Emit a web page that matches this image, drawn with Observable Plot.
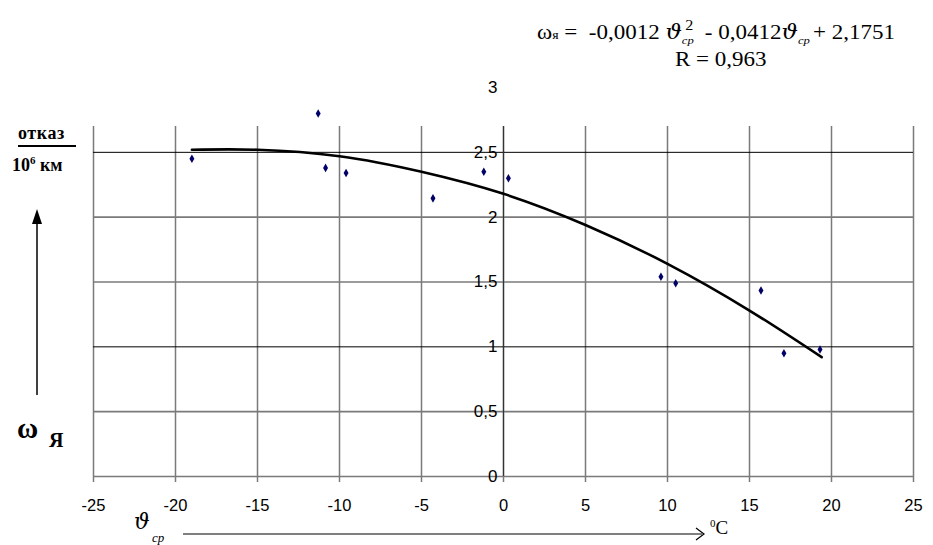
<!DOCTYPE html>
<html><head><meta charset="utf-8">
<script src="https://cdn.jsdelivr.net/npm/d3@7"></script>
<script src="https://cdn.jsdelivr.net/npm/@observablehq/plot@0.6"></script>
<style>
body{margin:0;background:#fff;}
#wrap{position:relative;width:933px;height:545px;overflow:hidden;font-family:"Liberation Serif","Times New Roman",serif;}
.a{position:absolute;white-space:nowrap;color:#000;line-height:1;}
.th{font-family:"DejaVu Serif",serif;font-style:italic;}
.ss{display:inline-block;position:relative;height:10px;}
</style></head>
<body><div id="wrap"></div>
<script>
// observed points: temperature (°C) vs failure rate
const tempC = [-19.0, -11.3, -10.85, -9.6, -4.3, -1.2, 0.3, 9.6, 10.5, 15.7, 17.1, 19.3];
const omega = [2.45, 2.80, 2.38, 2.34, 2.145, 2.35, 2.30, 1.54, 1.49, 1.435, 0.95, 0.98];
// trendline
const trendX = [-19, -15, -10, -5, 0, 5, 10, 15, 19.4];
const trendY = [2.52, 2.52, 2.47, 2.35, 2.18, 1.94, 1.64, 1.28, 0.92];
// ticks
const xTicks = [-25, -20, -15, -10, -5, 0, 5, 10, 15, 20, 25];
const yTicks = [0, 0.5, 1, 1.5, 2, 2.5, 3];
const yTickLabels = ["0", "0,5", "1", "1,5", "2", "2,5", "3"];
const hGrid = [0, 0.5, 1, 1.5, 2, 2.5];
const hGridDark = [1, 2.5];
const vGridTop = 2.7;

const pts = tempC.map((x, i) => ({x, y: omega[i]}));
const trend = trendX.map((x, i) => ({x, y: trendY[i]}));
const yLab = yTicks.map((v, i) => ({v, t: yTickLabels[i]}));

const plot = Plot.plot({
  width: 933, height: 545,
  marginLeft: 93, marginRight: 20, marginTop: 87, marginBottom: 69,
  x: {domain: [-25, 25], axis: null},
  y: {domain: [0, 3], axis: null},
  style: {fontFamily: "Liberation Sans, Arial, sans-serif", background: "transparent"},
  marks: [
    Plot.ruleX(xTicks, {x: d => d, y1: 0, y2: vGridTop, stroke: "#7a7a7a", strokeWidth: 1.5}),
    Plot.ruleY(hGrid.filter(v => !hGridDark.includes(v)), {y: d => d, stroke: "#7a7a7a", strokeWidth: 1.6}),
    Plot.ruleY(hGridDark, {y: d => d, stroke: "#000", strokeWidth: 1}),
    Plot.ruleX([0], {x: d => d, y1: 0, y2: vGridTop, stroke: "#333", strokeWidth: 1.2}),
    Plot.axisX(xTicks, {tickSize: 6, tickPadding: 17, fontSize: 16.5, stroke: "#7a7a7a", strokeWidth: 1.5, label: null, tickFormat: d => `${d}`}),
    Plot.text(yLab, {x: 0, y: "v", text: "t", dx: -6, textAnchor: "end", fontSize: 17, fill: "#000"}),
    Plot.line(trend, {x: "x", y: "y", curve: "natural", stroke: "#000", strokeWidth: 2.6}),
    Plot.dot(pts, {x: "x", y: "y", symbol: "diamond", r: 2.6, fill: "#000066", stroke: "none"})
  ]
});
const wrap = document.getElementById("wrap");
plot.style.position = "absolute"; plot.style.left = "0"; plot.style.top = "0";
wrap.appendChild(plot);

function add(html, css){const d=document.createElement("div");d.className="a";d.innerHTML=html;Object.assign(d.style,css);wrap.appendChild(d);return d;}
const thSq = '<span class="th">ϑ</span><span class="ss" style="width:15px;"><span style="position:absolute;left:3px;top:-10px;font-size:14px;">2</span><span style="position:absolute;left:0;top:6px;font-size:11px;font-style:italic;">ср</span></span>';
const thS = '<span class="th">ϑ</span><span class="ss" style="width:13px;"><span style="position:absolute;left:0;top:6px;font-size:11px;font-style:italic;">ср</span></span>';
add('ω<span style="font-size:12px;">я</span> =&nbsp; -0,0012 ' + thSq + ' - 0,0412' + thS + '+ 2,1751',
  {left: "537px", top: "22px", fontSize: "20px", transform: "scaleX(1.15)", transformOrigin: "0 0"});
add('R = 0,963', {left: "675px", top: "49px", fontSize: "20px", transform: "scaleX(1.15)", transformOrigin: "0 0"});
add('<b>отказ</b>', {left: "18px", top: "124px", fontSize: "18px", letterSpacing: "0.6px"});
add('<b>10<sup style="font-size:11px;vertical-align:7px;">6</sup> км</b>', {left: "12px", top: "155px", fontSize: "18px"});
add('<b>ω</b>', {left: "17px", top: "414px", fontSize: "29px"});
add('<b>Я</b>', {left: "49px", top: "430px", fontSize: "20px"});
add('<i class="th" style="font-size:22px;">ϑ</i>', {left: "134px", top: "511px"});
add('<i style="font-size:13px;">ср</i>', {left: "152px", top: "529px"});
add('<sup style="font-size:11px;">0</sup>C', {left: "710px", top: "518px", fontSize: "19px"});

const ns = "http://www.w3.org/2000/svg";
const ov = document.createElementNS(ns, "svg");
ov.setAttribute("width", 933); ov.setAttribute("height", 545);
ov.style.position = "absolute"; ov.style.left = "0"; ov.style.top = "0";
ov.innerHTML = `
<line x1="18" y1="146" x2="76" y2="146" stroke="#000" stroke-width="2"/>
<line x1="37" y1="395" x2="37" y2="222" stroke="#000" stroke-width="1.5"/>
<path d="M37,209 L32,224 L42,224 Z" fill="#000"/>
<line x1="183" y1="534" x2="702" y2="534" stroke="#000" stroke-width="1.2"/>
<path d="M696,528 L704,534 L696,540" fill="none" stroke="#000" stroke-width="1.2"/>`;
wrap.appendChild(ov);
</script></body></html>
